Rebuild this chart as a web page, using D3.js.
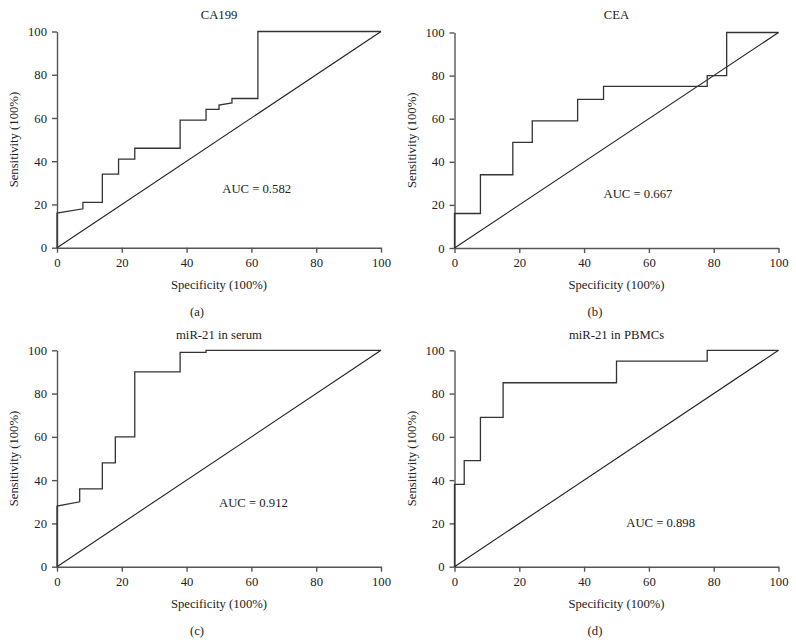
<!DOCTYPE html>
<html><head><meta charset="utf-8">
<script src="https://cdn.jsdelivr.net/npm/d3@7"></script>
<style>body{margin:0;background:#fff}svg{display:block}text{font-family:"Liberation Serif","Times New Roman",serif;fill:#222}</style>
</head><body><svg id="c" width="796" height="643"></svg>
<script>
const titles = ["CA199", "CEA", "miR-21 in serum", "miR-21 in PBMCs"];
const panelLabels = ["(a)", "(b)", "(c)", "(d)"];
const aucLabels = ["AUC = 0.582", "AUC = 0.667", "AUC = 0.912", "AUC = 0.898"];
const aucPos = [[51, 27], [46, 25], [50, 29.5], [53, 20]];
const xTicks = [0, 20, 40, 60, 80, 100];
const yTicks = [0, 20, 40, 60, 80, 100];
// ROC step points: [specificity-axis value, sensitivity]
const rocCA199 = [[0,0],[0,16],[8,18],[8,21],[14,21],[14,34],[19,34],[19,41],[24,41],[24,46],[38,46],[38,59],[46,59],[46,64],[50,64],[50,66],[54,67],[54,69],[62,69],[62,100],[100,100]];
const rocCEA = [[0,0],[0,16],[8,16],[8,34],[18,34],[18,49],[24,49],[24,59],[38,59],[38,69],[46,69],[46,75],[78,75],[78,80],[84,80],[84,100],[100,100]];
const rocSerum = [[0,0],[0,28],[7,30],[7,36],[14,36],[14,48],[18,48],[18,60],[24,60],[24,90],[38,90],[38,99],[46,99],[46,100],[100,100]];
const rocPBMC = [[0,0],[0,38],[3,38],[3,49],[8,49],[8,69],[15,69],[15,85],[50,85],[50,95],[78,95],[78,100],[100,100]];
const reference = [[0,0],[100,100]];
const curves = [rocCA199, rocCEA, rocSerum, rocPBMC];

const FS = 12.7;
const svg = d3.select("#c");
const panels = [
  {x0:57, x1:381, y0:247.7, y1:31.5, cx:197, top:0},
  {x0:454.5, x1:778.5, y0:248, y1:32.5, cx:595, top:0},
  {x0:57, x1:381, y0:566.7, y1:350.3, cx:197, top:320},
  {x0:454.5, x1:778.5, y0:566.7, y1:350.3, cx:595, top:320}
];
panels.forEach((p, i) => {
  const x = d3.scaleLinear().domain([0,100]).range([p.x0, p.x1]);
  const y = d3.scaleLinear().domain([0,100]).range([p.y0, p.y1]);
  const g = svg.append("g");
  const xa = g.append("g").attr("transform", `translate(0,${p.y0})`)
    .call(d3.axisBottom(x).tickValues(xTicks).tickSize(5).tickSizeOuter(0).tickPadding(5));
  const ya = g.append("g").attr("transform", `translate(${p.x0},0)`)
    .call(d3.axisLeft(y).tickValues(yTicks).tickSize(5).tickSizeOuter(0).tickPadding(5));
  [xa, ya].forEach(a => {
    a.selectAll("path,line").attr("stroke", "#555").attr("stroke-width", 1.4);
    a.selectAll("text").attr("font-size", FS).attr("fill", "#222").style("font-family", '"Liberation Serif",serif');
  });
  const line = d3.line().x(d => x(d[0])).y(d => y(d[1]));
  g.append("path").attr("d", line(reference)).attr("fill", "none").attr("stroke", "#222").attr("stroke-width", 1.1);
  g.append("path").attr("d", line(curves[i])).attr("fill", "none").attr("stroke", "#333").attr("stroke-width", 1.3);
  const mid = (p.x0 + p.x1) / 2;
  g.append("text").attr("x", mid).attr("y", p.top + 19).attr("text-anchor", "middle").attr("font-size", FS).text(titles[i]);
  g.append("text").attr("x", mid).attr("y", p.y0 + 41).attr("text-anchor", "middle").attr("font-size", FS).text("Specificity (100%)");
  g.append("text").attr("transform", `translate(${p.x0 - 39},${(p.y0 + p.y1) / 2}) rotate(-90)`).attr("text-anchor", "middle").attr("font-size", FS).text("Sensitivity (100%)");
  g.append("text").attr("x", p.cx).attr("y", p.y0 + 68).attr("text-anchor", "middle").attr("font-size", FS).text(panelLabels[i]);
  g.append("text").attr("x", x(aucPos[i][0])).attr("y", y(aucPos[i][1]) + 4).attr("font-size", FS).text(aucLabels[i]);
});
</script></body></html>
